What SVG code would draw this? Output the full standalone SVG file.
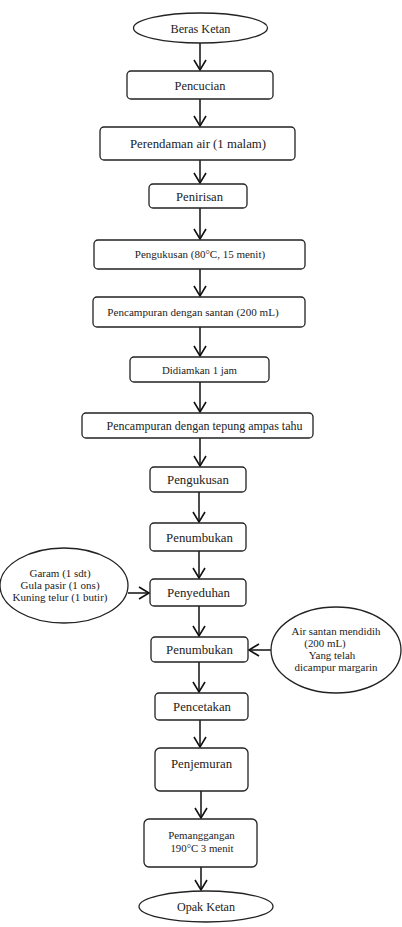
<svg xmlns="http://www.w3.org/2000/svg" width="402" height="927" viewBox="0 0 402 927">
<style>
.b{fill:#fff;stroke:#222;stroke-width:1.3}
.t{font-family:"Liberation Serif","Times New Roman",serif;fill:#222;text-anchor:middle}
.c{fill:none;stroke:#111;stroke-width:1.5}
</style>
<defs>
<marker id="ah" viewBox="0 0 14 14" markerWidth="14" markerHeight="14" refX="11" refY="7" orient="auto" markerUnits="userSpaceOnUse">
<path d="M1,1 L11,7 L1,13" fill="none" stroke="#111" stroke-width="1.6"/>
</marker>
</defs>
<rect width="402" height="927" fill="#fff"/>
<g id="connectors">
<path class="c" d="M200,43 V70" marker-end="url(#ah)"/>
<path class="c" d="M200,99 V126" marker-end="url(#ah)"/>
<path class="c" d="M200,160 V183" marker-end="url(#ah)"/>
<path class="c" d="M200,208 V239" marker-end="url(#ah)"/>
<path class="c" d="M200,269 V296" marker-end="url(#ah)"/>
<path class="c" d="M200,327 V356" marker-end="url(#ah)"/>
<path class="c" d="M200,382 V412" marker-end="url(#ah)"/>
<path class="c" d="M200,438 V466" marker-end="url(#ah)"/>
<path class="c" d="M199,492 V522" marker-end="url(#ah)"/>
<path class="c" d="M199,551 V578" marker-end="url(#ah)"/>
<path class="c" d="M199,606 V636" marker-end="url(#ah)"/>
<path class="c" d="M199,662 V692" marker-end="url(#ah)"/>
<path class="c" d="M200,720 V747" marker-end="url(#ah)"/>
<path class="c" d="M201,791 V818" marker-end="url(#ah)"/>
<path class="c" d="M201,867 V890" marker-end="url(#ah)"/>
<path class="c" d="M128,593 H149" marker-end="url(#ah)"/>
<path class="c" d="M271,650 H249" marker-end="url(#ah)"/>
</g>
<g id="beras-ketan"><ellipse class="b" cx="200.5" cy="28" rx="67" ry="15"/><text class="t" x="200.5" y="32.5" font-size="12.2">Beras Ketan</text></g>
<g id="pencucian"><rect class="b" x="127" y="71" width="146" height="28" rx="4"/><text class="t" x="200" y="89.5" font-size="12.4">Pencucian</text></g>
<g id="perendaman"><rect class="b" x="100" y="127" width="195" height="33" rx="4"/><text class="t" x="198" y="148" font-size="12.8">Perendaman air (1 malam)</text></g>
<g id="penirisan"><rect class="b" x="149" y="184" width="98" height="24" rx="4"/><text class="t" x="199.5" y="200.5" font-size="12.6">Penirisan</text></g>
<g id="pengukusan-80"><rect class="b" x="94" y="240" width="211" height="29" rx="4"/><text class="t" x="200" y="258" font-size="11">Pengukusan (80°C, 15 menit)</text></g>
<g id="pencampuran-santan"><rect class="b" x="93" y="297" width="212" height="30" rx="4"/><text class="t" x="193" y="316" font-size="11.1">Pencampuran dengan santan (200 mL)</text></g>
<g id="didiamkan"><rect class="b" x="130" y="357" width="139" height="25" rx="4"/><text class="t" x="199.5" y="373.5" font-size="10.8">Didiamkan 1 jam</text></g>
<g id="pencampuran-tepung"><rect class="b" x="82" y="413" width="231" height="25" rx="4"/><text class="t" x="204.5" y="430" font-size="12">Pencampuran dengan tepung ampas tahu</text></g>
<g id="pengukusan"><rect class="b" x="150" y="467" width="96" height="25" rx="4"/><text class="t" x="198" y="484" font-size="12.8">Pengukusan</text></g>
<g id="penumbukan-1"><rect class="b" x="150" y="523" width="96" height="28" rx="4"/><text class="t" x="199.5" y="541.5" font-size="12.8">Penumbukan</text></g>
<g id="penyeduhan"><rect class="b" x="150" y="579" width="96" height="27" rx="4"/><text class="t" x="198.5" y="597" font-size="12.9">Penyeduhan</text></g>
<g id="bahan-tambahan"><ellipse class="b" cx="64" cy="585.5" rx="64" ry="37.5"/>
<text class="t" x="60" y="576.5" font-size="11">Garam (1 sdt)</text>
<text class="t" x="60" y="588.5" font-size="11">Gula pasir (1 ons)</text>
<text class="t" x="60" y="600.5" font-size="11">Kuning telur (1 butir)</text></g>
<g id="penumbukan-2"><rect class="b" x="151" y="637" width="97" height="25" rx="4"/><text class="t" x="199.5" y="654" font-size="12.8">Penumbukan</text></g>
<g id="air-santan"><ellipse class="b" cx="336" cy="650" rx="65" ry="43"/>
<text class="t" x="336" y="635" font-size="10.9">Air santan mendidih</text>
<text class="t" x="325" y="647" font-size="10.9">(200 mL)</text>
<text class="t" x="332" y="659" font-size="10.9">Yang telah</text>
<text class="t" x="336" y="671" font-size="10.9">dicampur margarin</text></g>
<g id="pencetakan"><rect class="b" x="155" y="693" width="93" height="27" rx="4"/><text class="t" x="202" y="711" font-size="12.7">Pencetakan</text></g>
<g id="penjemuran"><rect class="b" x="155" y="748" width="93" height="43" rx="5"/><text class="t" x="201.5" y="768" font-size="12.8">Penjemuran</text></g>
<g id="pemanggangan"><rect class="b" x="144" y="819" width="113" height="48" rx="5"/>
<text class="t" x="201.5" y="839" font-size="10.9">Pemanggangan</text>
<text class="t" x="202" y="852" font-size="10.8">190°C 3 menit</text></g>
<g id="opak-ketan"><ellipse class="b" cx="206" cy="906.5" rx="67" ry="15.5"/><text class="t" x="206" y="911" font-size="12.1">Opak Ketan</text></g>
</svg>
